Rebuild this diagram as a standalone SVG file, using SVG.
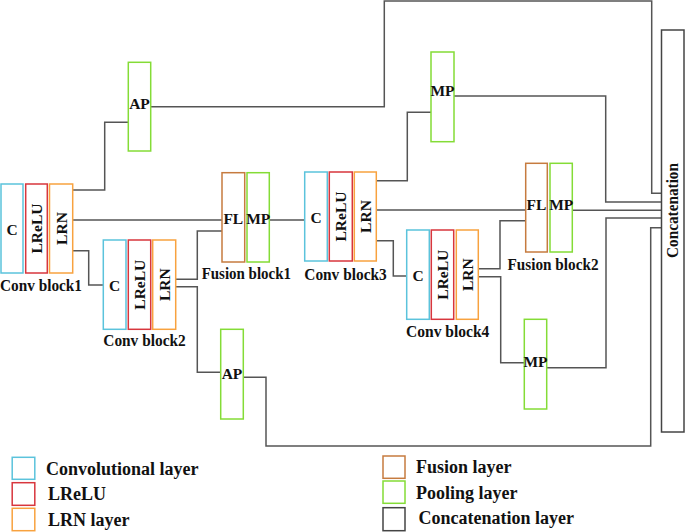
<svg xmlns="http://www.w3.org/2000/svg" width="685" height="532" viewBox="0 0 685 532">
<style>
  .box{fill:#fff;stroke-width:1.5}
  .conv{stroke:#5bc3dc}
  .lrelu{stroke:#d8363d}
  .lrn{stroke:#f8a23f}
  .fl{stroke:#c67b3f}
  .pool{stroke:#84dc36}
  .cat{stroke:#444}
  .t{font-family:"Liberation Serif","Times New Roman",serif;font-weight:bold;font-size:15.5px;fill:#111;text-anchor:middle;dominant-baseline:central}
  .lb{font-family:"Liberation Serif","Times New Roman",serif;font-weight:bold;font-size:16.5px;fill:#111;text-anchor:middle;dominant-baseline:central}
  .lg{font-family:"Liberation Serif","Times New Roman",serif;font-weight:bold;font-size:18px;fill:#111;dominant-baseline:central}
  .c{fill:none;stroke:#555;stroke-width:1.5}
</style>
<rect width="685" height="532" fill="#fff"/>
<g id="connectors">
  <polyline class="c" points="72.7,190 104.7,190 104.7,122.3 128.3,122.3"/>
  <polyline class="c" points="150.7,106.7 384.3,106.7 384.3,1 651.7,1 651.7,193.3 661.5,193.3"/>
  <polyline class="c" points="72.7,220 222,220"/>
  <polyline class="c" points="72.7,250.7 88.7,250.7 88.7,285 103.3,285"/>
  <polyline class="c" points="175.7,279.3 197.3,279.3 197.3,231 222,231"/>
  <polyline class="c" points="175.7,286.7 197.3,286.7 197.3,372.3 220.7,372.3"/>
  <polyline class="c" points="243.3,377.3 266,377.3 266,446 650.7,446 650.7,227.7 661.5,227.7"/>
  <polyline class="c" points="269.3,220 304.7,220"/>
  <polyline class="c" points="376.3,180.7 407.3,180.7 407.3,112.3 431,112.3"/>
  <polyline class="c" points="454,96 605.7,96 605.7,202 661.5,202"/>
  <polyline class="c" points="376.3,210 525.7,210"/>
  <polyline class="c" points="376.3,240.7 393.3,240.7 393.3,276 406.7,276"/>
  <polyline class="c" points="478.3,268.7 500,268.7 500,220.7 525.7,220.7"/>
  <polyline class="c" points="478.3,276.7 500.7,276.7 500.7,362.7 524.3,362.7"/>
  <polyline class="c" points="546.7,367.7 606,367.7 606,218 661.5,218"/>
  <polyline class="c" points="572.3,210.3 661.5,210.3"/>
</g>
<g id="conv-block1">
  <rect class="box conv" x="1" y="184" width="22" height="89"/>
  <rect class="box lrelu" x="25.7" y="184" width="21.6" height="89"/>
  <rect class="box lrn" x="49.5" y="184" width="23.2" height="89"/>
  <text class="t" x="12" y="229">C</text>
  <text class="t" x="36.5" y="228.5" transform="rotate(-90 36.5 228.5)">LReLU</text>
  <text class="t" x="61" y="228.5" transform="rotate(-90 61 228.5)">LRN</text>
  <text class="lb" x="41" y="285" textLength="82" lengthAdjust="spacingAndGlyphs">Conv block1</text>
</g>
<g id="conv-block2">
  <rect class="box conv" x="103.3" y="240" width="22.7" height="89.3"/>
  <rect class="box lrelu" x="128.3" y="240" width="22.4" height="89.3"/>
  <rect class="box lrn" x="152.7" y="240" width="23" height="89.3"/>
  <text class="t" x="114.7" y="285">C</text>
  <text class="t" x="139.5" y="284.7" transform="rotate(-90 139.5 284.7)">LReLU</text>
  <text class="t" x="164.2" y="284.7" transform="rotate(-90 164.2 284.7)">LRN</text>
  <text class="lb" x="144.5" y="340.7" textLength="82.4" lengthAdjust="spacingAndGlyphs">Conv block2</text>
</g>
<g id="ap1">
  <rect class="box pool" x="128.3" y="62.3" width="22.4" height="88.7"/>
  <text class="t" x="139.5" y="103.5">AP</text>
</g>
<g id="fusion-block1">
  <rect class="box fl" x="222" y="172.7" width="22.7" height="89.3"/>
  <rect class="box pool" x="247" y="172.7" width="22.3" height="89.3"/>
  <text class="t" x="233.3" y="218">FL</text>
  <text class="t" x="258.2" y="218">MP</text>
  <text class="lb" x="246.3" y="273.3" textLength="89.3" lengthAdjust="spacingAndGlyphs">Fusion block1</text>
</g>
<g id="ap2">
  <rect class="box pool" x="220.7" y="329.3" width="22.6" height="89.7"/>
  <text class="t" x="232" y="373">AP</text>
</g>
<g id="conv-block3">
  <rect class="box conv" x="304.7" y="172" width="22.6" height="89"/>
  <rect class="box lrelu" x="329.3" y="172" width="23" height="89"/>
  <rect class="box lrn" x="354.3" y="172" width="22" height="89"/>
  <text class="t" x="316" y="217">C</text>
  <text class="t" x="340.8" y="216.5" transform="rotate(-90 340.8 216.5)">LReLU</text>
  <text class="t" x="365.3" y="216.5" transform="rotate(-90 365.3 216.5)">LRN</text>
  <text class="lb" x="345.5" y="274" textLength="82.4" lengthAdjust="spacingAndGlyphs">Conv block3</text>
</g>
<g id="mp1">
  <rect class="box pool" x="431" y="52" width="23" height="89.7"/>
  <text class="t" x="442.5" y="90">MP</text>
</g>
<g id="conv-block4">
  <rect class="box conv" x="406.7" y="230" width="22.6" height="89.3"/>
  <rect class="box lrelu" x="431.3" y="230" width="22.4" height="89.3"/>
  <rect class="box lrn" x="456.3" y="230" width="22" height="89.3"/>
  <text class="t" x="418" y="275">C</text>
  <text class="t" x="442.5" y="274.7" transform="rotate(-90 442.5 274.7)">LReLU</text>
  <text class="t" x="467.3" y="274.7" transform="rotate(-90 467.3 274.7)">LRN</text>
  <text class="lb" x="447.7" y="331" textLength="83.3" lengthAdjust="spacingAndGlyphs">Conv block4</text>
</g>
<g id="fusion-block2">
  <rect class="box fl" x="525.7" y="163.3" width="21.6" height="88.7"/>
  <rect class="box pool" x="550" y="163.3" width="22.3" height="88.7"/>
  <text class="t" x="536.5" y="204">FL</text>
  <text class="t" x="561.2" y="204">MP</text>
  <text class="lb" x="553" y="264" textLength="91" lengthAdjust="spacingAndGlyphs">Fusion block2</text>
</g>
<g id="mp3">
  <rect class="box pool" x="524.3" y="319.3" width="22.4" height="89.7"/>
  <text class="t" x="535.5" y="361.7">MP</text>
</g>
<g id="concatenation">
  <rect class="box cat" x="661.5" y="30" width="22.5" height="402"/>
  <text class="lb" x="672.8" y="210.5" transform="rotate(-90 672.8 210.5)" textLength="95" lengthAdjust="spacingAndGlyphs">Concatenation</text>
</g>
<g id="legend">
  <rect class="box conv" x="12.2" y="457.3" width="22.6" height="22"/>
  <rect class="box lrelu" x="12.2" y="482.7" width="22.6" height="22.6"/>
  <rect class="box lrn" x="12.2" y="508.3" width="22.6" height="22.4"/>
  <rect class="box fl" x="383" y="456" width="22" height="22.3"/>
  <rect class="box pool" x="383" y="481" width="22" height="22.3"/>
  <rect class="box cat" x="383" y="507.7" width="22" height="23"/>
  <text class="lg" x="46" y="469.3">Convolutional layer</text>
  <text class="lg" x="48" y="494">LReLU</text>
  <text class="lg" x="48" y="520">LRN layer</text>
  <text class="lg" x="416" y="466.7">Fusion layer</text>
  <text class="lg" x="416" y="492.7">Pooling layer</text>
  <text class="lg" x="418.6" y="518.3">Concatenation layer</text>
</g>
</svg>
